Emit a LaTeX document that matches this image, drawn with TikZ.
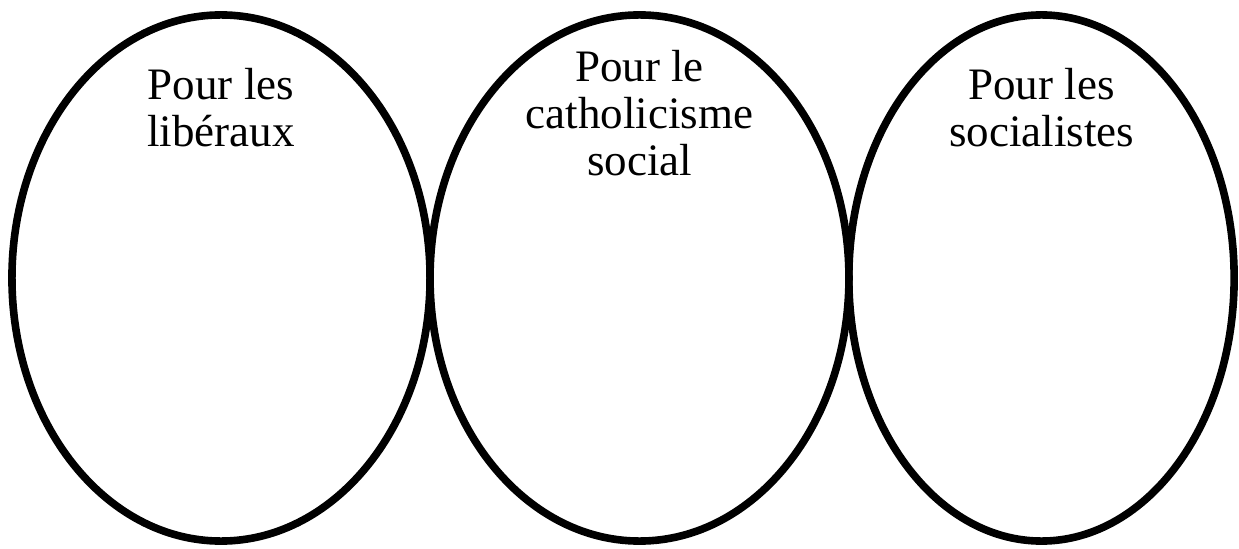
\documentclass[tikz,border=0pt]{standalone}
\usepackage{fontspec}
\setmainfont{Liberation Serif}
\usetikzlibrary{shapes.geometric,positioning}

\begin{document}
\begin{tikzpicture}[x=0.025cm,y=0.025cm,
	oval/.style={ellipse, draw, line width=0.19cm, inner sep=0pt, minimum height=13.15cm},
	titre/.style={align=center, inner sep=0pt, font=\fontsize{32}{33.4}\selectfont}]
	\useasboundingbox (0,0) rectangle (1239,548);
	% les trois ovales
	\node[oval, minimum width=10.45cm] (lib) at (221,270) {};
	\node[oval, minimum width=10.47cm] (cath) at (639.5,270) {};
	\node[oval, minimum width=9.63cm] (soc) at (1041.5,270) {};
	% titres
	\node[titre, below=1.42cm of lib.north] (libtxt) {Pour les\\libéraux};
	\node[titre, below=0.97cm of cath.north] (cathtxt) {Pour le\\catholicisme\\social};
	\node[titre, below=1.42cm of soc.north] (soctxt) {Pour les\\socialistes};
\end{tikzpicture}
\end{document}
